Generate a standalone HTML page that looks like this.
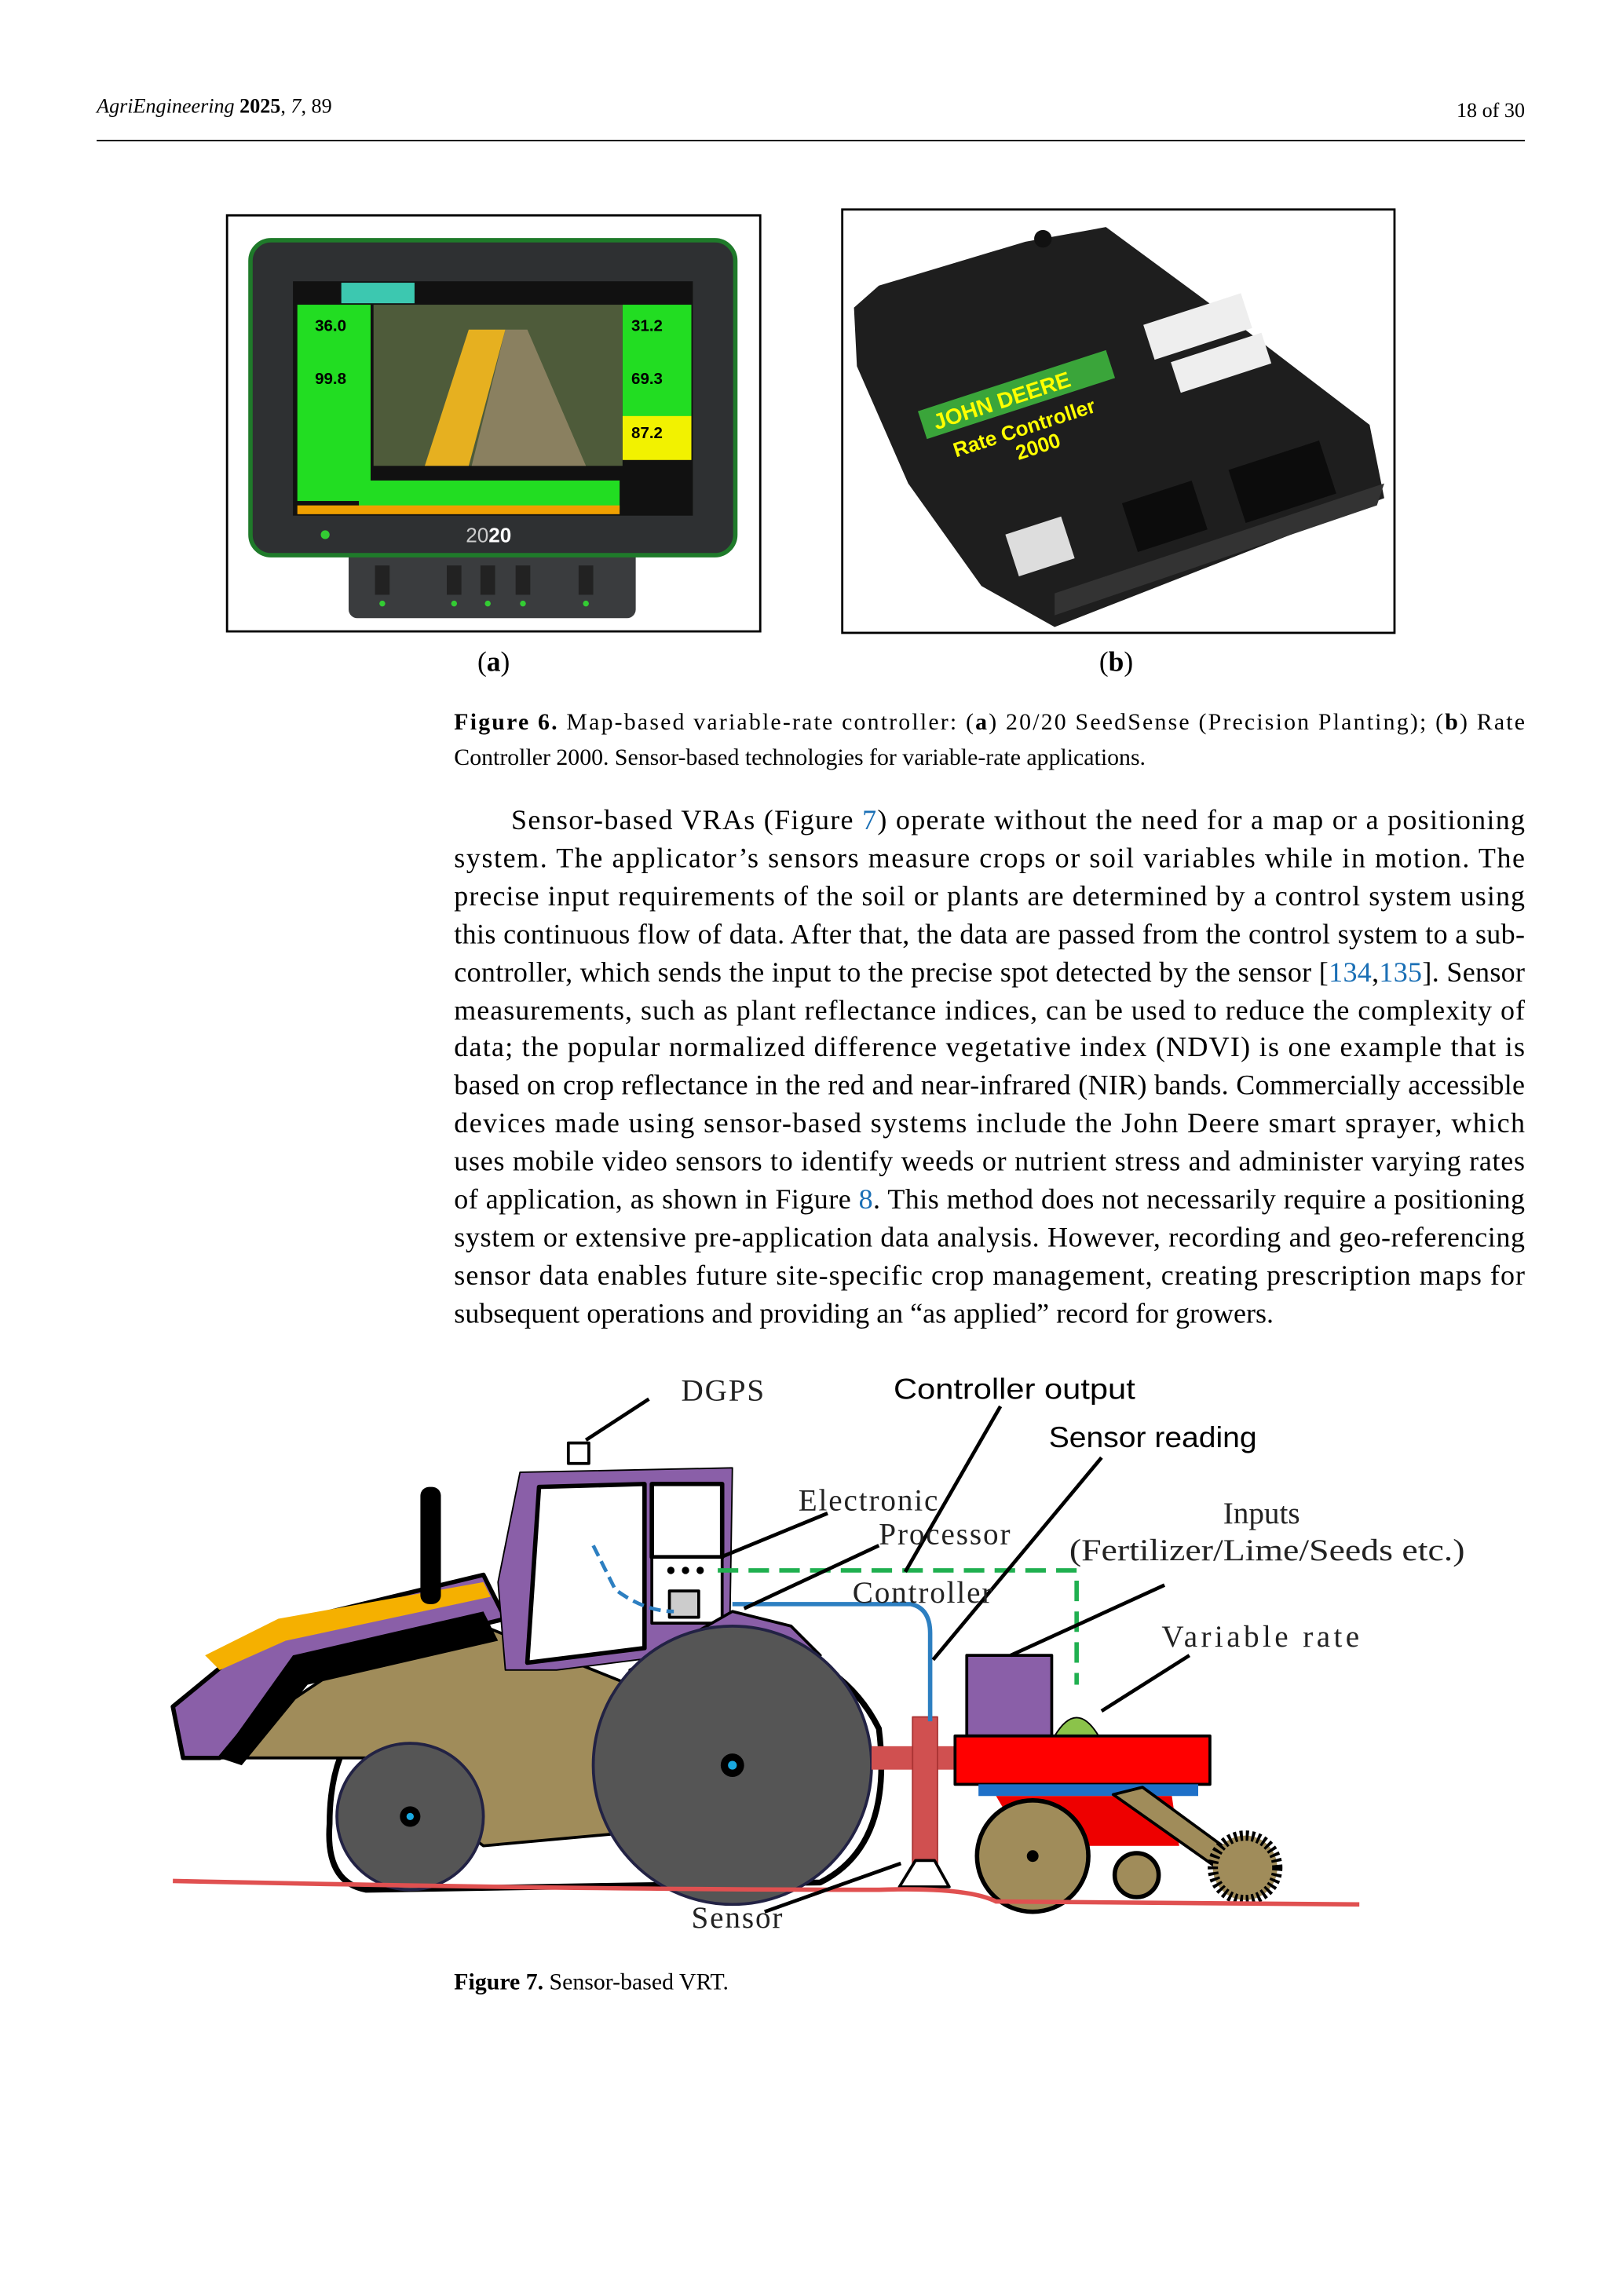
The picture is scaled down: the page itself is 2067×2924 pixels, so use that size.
<!DOCTYPE html>
<html><head><meta charset="utf-8"><style>
html,body{margin:0;padding:0;background:#fff;}
svg{display:block;}
.s{font-family:"Liberation Serif",serif;}
.a{font-family:"Liberation Sans",sans-serif;}
</style></head><body>
<svg width="2067" height="2924" viewBox="0 0 1108 1567.3" preserveAspectRatio="none" xmlns="http://www.w3.org/2000/svg">
<text class="s" x="66" y="77" font-size="14"><tspan font-style="italic">AgriEngineering</tspan> <tspan font-weight="bold">2025</tspan>, <tspan font-style="italic">7</tspan>, 89</text>
<text class="s" x="1041" y="80" font-size="14" text-anchor="end">18 of 30</text>
<line x1="66" y1="96" x2="1041" y2="96" stroke="#000" stroke-width="1"/>

<rect x="155" y="147" width="364" height="284" fill="#fff" stroke="#000" stroke-width="1.5"/>
<rect x="238" y="372" width="196" height="50" rx="6" fill="#3a3c3e"/>
<g fill="#222"><rect x="256" y="386" width="10" height="20"/><rect x="305" y="386" width="10" height="20"/><rect x="328" y="386" width="10" height="20"/><rect x="352" y="386" width="10" height="20"/><rect x="395" y="386" width="10" height="20"/></g>
<g fill="#3c3"><circle cx="261" cy="412" r="2"/><circle cx="310" cy="412" r="2"/><circle cx="333" cy="412" r="2"/><circle cx="357" cy="412" r="2"/><circle cx="400" cy="412" r="2"/></g>
<rect x="171" y="164" width="331" height="215" rx="14" fill="#2e3032" stroke="#1f7a2a" stroke-width="3"/>
<rect x="200" y="192" width="273" height="160" fill="#111"/>
<rect x="233" y="193" width="50" height="14" fill="#3cc8b0"/>
<rect x="203" y="208" width="50" height="134" fill="#22dd22"/>
<rect x="425" y="208" width="47" height="84" fill="#22dd22"/>
<rect x="425" y="284" width="47" height="30" fill="#f2f200"/>
<rect x="255" y="208" width="170" height="110" fill="#4e5b3a"/>
<polygon points="320,225 345,225 320,318 290,318" fill="#e6b020"/>
<polygon points="345,225 360,225 400,318 322,318" fill="#8a8060"/>
<rect x="245" y="328" width="178" height="20" fill="#22dd22"/>
<rect x="203" y="345" width="220" height="6" fill="#f0a000"/>
<g class="a" font-weight="bold" font-size="11" fill="#000"><text x="215" y="226">36.0</text><text x="215" y="262">99.8</text><text x="431" y="226">31.2</text><text x="431" y="262">69.3</text><text x="431" y="299">87.2</text></g>
<text class="a" x="318" y="370" font-size="14" fill="#ccc">20<tspan fill="#fff" font-weight="bold">20</tspan></text>
<circle cx="222" cy="365" r="3" fill="#3c3"/>
<text class="s" x="337" y="458" font-size="19" text-anchor="middle">(<tspan font-weight="bold">a</tspan>)</text>

<rect x="575" y="143" width="377" height="289" fill="#fff" stroke="#000" stroke-width="1.5"/>
<polygon points="583,210 600,195 700,165 755,155 850,225 935,290 945,340 720,428 670,400 620,330 585,250" fill="#1e1e1e"/>
<polygon points="720,420 940,345 945,330 720,405" fill="#333"/>
<rect x="690" y="358" width="40" height="30" fill="#ddd" transform="rotate(-18 710 373)"/>
<rect x="770" y="335" width="50" height="35" fill="#0c0c0c" transform="rotate(-18 795 352)"/>
<rect x="843" y="310" width="65" height="38" fill="#0c0c0c" transform="rotate(-18 875 329)"/>
<g transform="rotate(-18 700 280)"><rect x="630" y="258" width="135" height="20" fill="#3aa53a"/>
<text class="a" x="638" y="274" font-size="15" font-weight="bold" fill="#ff0">JOHN DEERE</text>
<text class="a" x="645" y="296" font-size="14" font-weight="bold" fill="#ff0">Rate Controller</text>
<text class="a" x="685" y="311" font-size="14" font-weight="bold" fill="#ff0">2000</text></g>
<g transform="rotate(-18 820 230)"><rect x="785" y="210" width="70" height="25" fill="#eee"/><rect x="795" y="240" width="65" height="22" fill="#eee"/></g>
<circle cx="712" cy="163" r="6" fill="#111"/>
<text class="s" x="762" y="458" font-size="19" text-anchor="middle">(<tspan font-weight="bold">b</tspan>)</text>

<text class="s" x="310" y="498" font-size="16" textLength="731" lengthAdjust="spacing"><tspan font-weight="bold">Figure 6.</tspan> Map-based variable-rate controller: (<tspan font-weight="bold">a</tspan>) 20/20 SeedSense (Precision Planting); (<tspan font-weight="bold">b</tspan>) Rate</text>
<text class="s" x="310" y="522" font-size="16">Controller 2000. Sensor-based technologies for variable-rate applications.</text>

<g class="s" font-size="19.3">
<text x="349" y="566" textLength="692" lengthAdjust="spacing">Sensor-based VRAs (Figure <tspan fill="#1a6fb5">7</tspan>) operate without the need for a map or a positioning</text>
<text x="310" y="592" textLength="731" lengthAdjust="spacing">system. The applicator’s sensors measure crops or soil variables while in motion. The</text>
<text x="310" y="618" textLength="731" lengthAdjust="spacing">precise input requirements of the soil or plants are determined by a control system using</text>
<text x="310" y="644" textLength="731" lengthAdjust="spacing">this continuous flow of data. After that, the data are passed from the control system to a sub-</text>
<text x="310" y="670" textLength="731" lengthAdjust="spacing">controller, which sends the input to the precise spot detected by the sensor [<tspan fill="#1a6fb5">134</tspan>,<tspan fill="#1a6fb5">135</tspan>]. Sensor</text>
<text x="310" y="696" textLength="731" lengthAdjust="spacing">measurements, such as plant reflectance indices, can be used to reduce the complexity of</text>
<text x="310" y="721" textLength="731" lengthAdjust="spacing">data; the popular normalized difference vegetative index (NDVI) is one example that is</text>
<text x="310" y="747" textLength="731" lengthAdjust="spacing">based on crop reflectance in the red and near-infrared (NIR) bands. Commercially accessible</text>
<text x="310" y="773" textLength="731" lengthAdjust="spacing">devices made using sensor-based systems include the John Deere smart sprayer, which</text>
<text x="310" y="799" textLength="731" lengthAdjust="spacing">uses mobile video sensors to identify weeds or nutrient stress and administer varying rates</text>
<text x="310" y="825" textLength="731" lengthAdjust="spacing">of application, as shown in Figure <tspan fill="#1a6fb5">8</tspan>. This method does not necessarily require a positioning</text>
<text x="310" y="851" textLength="731" lengthAdjust="spacing">system or extensive pre-application data analysis. However, recording and geo-referencing</text>
<text x="310" y="877" textLength="731" lengthAdjust="spacing">sensor data enables future site-specific crop management, creating prescription maps for</text>
<text x="310" y="903">subsequent operations and providing an “as applied” record for growers.</text>
</g>

<g stroke-linejoin="round">
<path d="M225,1245 Q225,1160 300,1150 L420,1120 Q560,1100 600,1180 Q610,1260 560,1285 L250,1290 Q222,1285 225,1245Z" fill="#fff" stroke="#000" stroke-width="4"/>
<polygon points="140,1200 230,1140 330,1110 430,1150 440,1250 330,1260 250,1200" fill="#a08c5a" stroke="#000" stroke-width="2"/>
<path d="M118,1165 L185,1110 L330,1075 L345,1105 L200,1140 L150,1200 L125,1200 Z" fill="#8a5fa8" stroke="#000" stroke-width="3"/>
<path d="M150,1200 L200,1130 L330,1100 L340,1120 L210,1150 L165,1205Z" fill="#000"/>
<path d="M140,1130 L190,1105 L330,1080 L335,1090 L195,1120 L150,1140Z" fill="#f5b000"/>
<rect x="287" y="1015" width="14" height="80" rx="6" fill="#000"/>
<polygon points="355,1005 500,1002 498,1125 380,1140 345,1140 340,1080" fill="#8a5fa8" stroke="#000" stroke-width="1"/>
<polygon points="368,1015 440,1013 440,1125 360,1135" fill="#fff" stroke="#000" stroke-width="3"/>
<rect x="445" y="1013" width="48" height="50" fill="#fff" stroke="#000" stroke-width="3"/>
<rect x="445" y="1063" width="48" height="45" fill="#fff" stroke="#000" stroke-width="2"/>
<circle cx="458" cy="1072" r="2.5" fill="#000"/><circle cx="468" cy="1072" r="2.5" fill="#000"/><circle cx="478" cy="1072" r="2.5" fill="#000"/>
<rect x="457" y="1086" width="20" height="18" fill="#ccc" stroke="#000" stroke-width="2"/>
<polygon points="430,1140 500,1100 540,1110 560,1130 480,1160 430,1170" fill="#8a5fa8" stroke="#000" stroke-width="2"/>
<rect x="388" y="985" width="14" height="14" fill="#fff" stroke="#000" stroke-width="2"/>
<circle cx="500" cy="1205" r="95" fill="#555" stroke="#224" stroke-width="2"/>
<circle cx="500" cy="1205" r="8" fill="#000"/><circle cx="500" cy="1205" r="3" fill="#19a8e0"/>
<circle cx="280" cy="1240" r="50" fill="#555" stroke="#224" stroke-width="2"/>
<circle cx="280" cy="1240" r="7" fill="#000"/><circle cx="280" cy="1240" r="2.5" fill="#19a8e0"/>
<rect x="595" y="1192" width="70" height="16" fill="#d05050"/>
<rect x="623" y="1172" width="17" height="115" fill="#d05050" stroke="#a33" stroke-width="1"/>
<polygon points="625,1270 638,1270 648,1288 614,1288" fill="#fff" stroke="#000" stroke-width="2"/>
<rect x="660" y="1130" width="58" height="55" fill="#8a5fa8" stroke="#000" stroke-width="2"/>
<path d="M720,1185 Q735,1160 750,1185Z" fill="#8bc34a" stroke="#000"/>
<rect x="652" y="1185" width="174" height="33" fill="#f00" stroke="#000" stroke-width="2"/>
<rect x="668" y="1218" width="150" height="8" fill="#1e70c8"/>
<path d="M680,1226 L800,1226 L805,1260 L700,1260Z" fill="#e00"/>
<polygon points="760,1225 780,1220 855,1275 845,1285" fill="#a08c5a" stroke="#000" stroke-width="2"/>
<circle cx="705" cy="1267" r="38" fill="#a08c5a" stroke="#000" stroke-width="3"/>
<circle cx="705" cy="1267" r="4" fill="#000"/>
<circle cx="776" cy="1280" r="15" fill="#a08c5a" stroke="#000" stroke-width="3"/>
<circle cx="850" cy="1275" r="22" fill="#a08c5a" stroke="#000" stroke-width="7" stroke-dasharray="2 2"/>
<path d="M118,1284 Q400,1290 600,1290 Q660,1288 680,1298 L928,1300" fill="none" stroke="#e05050" stroke-width="3"/>
<path d="M490,1072 L735,1072 L735,1150" fill="none" stroke="#20b050" stroke-width="3" stroke-dasharray="14 7"/>
<path d="M500,1095 L622,1095 Q635,1098 635,1115 L635,1175" fill="none" stroke="#2d7fc1" stroke-width="3"/>
<path d="M405,1055 L420,1085 Q440,1100 460,1100" fill="none" stroke="#2d7fc1" stroke-width="2.5" stroke-dasharray="8 4"/>
<g stroke="#000" stroke-width="2.5" fill="none">
<line x1="443" y1="955" x2="400" y2="983"/>
<line x1="683" y1="960" x2="618" y2="1073"/>
<line x1="752" y1="995" x2="637" y2="1133"/>
<line x1="565" y1="1033" x2="492" y2="1063"/>
<line x1="600" y1="1055" x2="508" y2="1098"/>
<line x1="795" y1="1082" x2="690" y2="1130"/>
<line x1="812" y1="1130" x2="752" y2="1168"/>
<line x1="522" y1="1305" x2="615" y2="1272"/>
</g>
<g class="s" font-size="21" fill="#222">
<text x="465" y="956" letter-spacing="1">DGPS</text>
<text x="545" y="1031" letter-spacing="1">Electronic</text>
<text x="600" y="1054" letter-spacing="1">Processor</text>
<text x="582" y="1094" letter-spacing="1">Controller</text>
<text x="835" y="1040">Inputs</text>
<text x="730" y="1065" textLength="270" lengthAdjust="spacingAndGlyphs">(Fertilizer/Lime/Seeds etc.)</text>
<text x="793" y="1124" textLength="135" lengthAdjust="spacing">Variable rate</text>
<text x="472" y="1316" letter-spacing="1">Sensor</text>
</g>
<g class="a" font-size="20" fill="#000">
<text x="610" y="955" textLength="165" lengthAdjust="spacingAndGlyphs">Controller output</text>
<text x="716" y="988" textLength="142" lengthAdjust="spacingAndGlyphs">Sensor reading</text>
</g>
</g>
<text class="s" x="310" y="1358" font-size="16"><tspan font-weight="bold">Figure 7.</tspan> Sensor-based VRT.</text>
</svg>
</body></html>
